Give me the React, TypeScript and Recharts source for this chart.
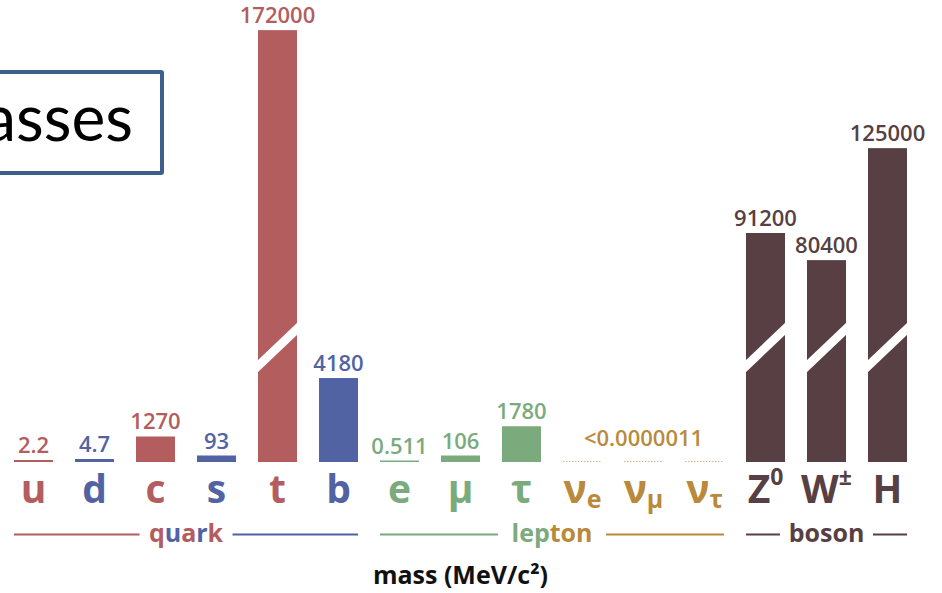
import { BarChart, Bar, XAxis, YAxis } from 'recharts';

/* ── Palette ─────────────────────────────────────────────────────────────── */

const RED   = '#B35D5F';
const BLUE  = '#5263A4';
const GREEN = '#7BAA7D';
const GOLD  = '#B98A3C';
const BROWN = '#583F43';
const FONT  = "'Open Sans', sans-serif";

/* ── Data ────────────────────────────────────────────────────────────────── */

const particles    = ['u', 'd', 'c', 's', 't', 'b', 'e', 'μ', 'τ', 'ν', 'ν', 'ν', 'Z', 'W', 'H'];
const subscripts   = ['', '', '', '', '', '', '', '', '', 'e', 'μ', 'τ', '', '', ''];
const superscripts = ['', '', '', '', '', '', '', '', '', '', '', '', '0', '±', ''];
// mass in MeV/c²
const masses = [2.2, 4.7, 1270, 93, 172000, 4180, 0.511, 106, 1780, 0.0000011, 0.0000011, 0.0000011, 91200, 80400, 125000];
const massLabels = ['2.2', '4.7', '1270', '93', '172000', '4180', '0.511', '106', '1780', '', '<0.0000011', '', '91200', '80400', '125000'];
// bars drawn on the compressed (broken) scale
const brokenScale = [false, false, false, false, true, false, false, false, false, false, false, false, true, true, true];
const particleColors = [RED, BLUE, RED, BLUE, RED, BLUE, GREEN, GREEN, GREEN, GOLD, GOLD, GOLD, BROWN, BROWN, BROWN];

const groupNames = ['quark', 'lepton', 'boson'];
const groupFirst = [0, 6, 12];
const groupLast  = [5, 11, 14];
const groupParts: [string, string][][] = [
  [['q', RED], ['u', BLUE], ['a', RED], ['r', BLUE], ['k', RED]],
  [['lep', GREEN], ['ton', GOLD]],
  [['boson', BROWN]],
];
const groupLineColors = [[RED, BLUE], [GREEN, GOLD], [BROWN, BROWN]];

const rows = particles.map((p, i) => ({
  i,
  name: p + subscripts[i] + superscripts[i],
  small: brokenScale[i] ? 0 : masses[i],
  big: brokenScale[i] ? masses[i] : 0,
}));

/* ── Layout ──────────────────────────────────────────────────────────────── */

const W = 942;
const H = 593;
const AXIS_H = 131;
const MARGIN = { top: 0, right: 24, bottom: 0, left: 3 };
const BASE_Y = H - MARGIN.bottom - AXIS_H;
const PITCH = (W - MARGIN.left - MARGIN.right) / particles.length;
const BAR = 39;
const GROUP_FS = 25;

/* ── Bar shape (bar + value label) ───────────────────────────────────────── */

const renderBar = (series: 'small' | 'big') => (props: any) => {
  const { x, y, width, height, payload } = props;
  const i = payload?.i;
  if (i == null || brokenScale[i] !== (series === 'big')) return <g />;
  const fill = particleColors[i];
  const base = y + height;
  const tiny = masses[i] < 0.001;

  let mark;
  if (tiny) {
    mark = (
      <line x1={x} x2={x + width} y1={base - 0.5} y2={base - 0.5}
        stroke={fill} strokeWidth={1} strokeDasharray="1.5 1.5" opacity={0.6} />
    );
  } else if (series === 'big') {
    mark = (
      <g>
        <rect x={x} y={y} width={width} height={height} fill={fill} />
        <polygon
          points={`${x - 1},${base - 101} ${x + width + 1},${base - 140} ${x + width + 1},${base - 128} ${x - 1},${base - 89}`}
          fill="#fff"
        />
      </g>
    );
  } else {
    mark = <rect x={x} y={y} width={width} height={height} fill={fill} />;
  }

  return (
    <g>
      {mark}
      {massLabels[i] && (
        <text x={x + width / 2} y={y - (tiny ? 15 : 7)} textAnchor="middle" fill={fill}
          fontSize={22} fontWeight={600} fontFamily={FONT}>
          {massLabels[i]}
        </text>
      )}
    </g>
  );
};

// tiny masses still get a visible sliver
const minSize = (value: any) => {
  if (!value) return 0;
  if (value >= 50) return 6.5;
  if (value >= 4) return 3;
  if (value >= 1) return 2;
  if (value >= 0.1) return 1.5;
  return 1;
};

/* ── Axis ticks ──────────────────────────────────────────────────────────── */

function GroupLabel({ g, x }: { g: number; x: number }) {
  const x0 = x - BAR / 2;
  const x1 = x + (groupLast[g] - groupFirst[g]) * PITCH + BAR / 2;
  const mid = (x0 + x1) / 2;
  const half = (groupNames[g].length * 0.6 * GROUP_FS) / 2 + 9;
  const ly = BASE_Y + 72.5;
  return (
    <g>
      <line x1={x0} x2={mid - half} y1={ly} y2={ly} stroke={groupLineColors[g][0]} strokeWidth={2} />
      <line x1={mid + half} x2={x1} y1={ly} y2={ly} stroke={groupLineColors[g][1]} strokeWidth={2} />
      <text x={mid} y={BASE_Y + 80} textAnchor="middle" fontSize={GROUP_FS} fontWeight={700} fontFamily={FONT}>
        {groupParts[g].map(([t, c], k) => <tspan key={k} fill={c}>{t}</tspan>)}
      </text>
    </g>
  );
}

function ParticleTick(props: any) {
  const { x, index } = props;
  const g = groupFirst.indexOf(index);
  return (
    <g>
      {g >= 0 && <GroupLabel g={g} x={x} />}
      <text x={x} y={BASE_Y + 41} textAnchor="middle" fill={particleColors[index]}
        fontSize={39} fontWeight={700} fontFamily={FONT}>
        {particles[index]}
        {subscripts[index] && <tspan fontSize={25} dy={5}>{subscripts[index]}</tspan>}
        {superscripts[index] && <tspan fontSize={23} dy={-18}>{superscripts[index]}</tspan>}
      </text>
    </g>
  );
}

function AxisTitle(props: any) {
  const vb = props.viewBox || {};
  return (
    <text x={vb.x + vb.width / 2} y={BASE_Y + 122} textAnchor="middle" fill="#111"
      fontSize={25} fontWeight={700} fontFamily={FONT}>
      mass (MeV/c²)
    </text>
  );
}

/* ── Page ─────────────────────────────────────────────────────────────────── */

export default function App() {
  return (
    <div style={{ position: 'absolute', left: 0, top: 0, width: W, height: H, background: '#fff', overflow: 'hidden' }}>
      <BarChart width={W} height={H} data={rows} margin={MARGIN} barSize={BAR}>
        <XAxis
          xAxisId="names"
          dataKey="name"
          height={AXIS_H}
          interval={0}
          axisLine={false}
          tickLine={false}
          tickSize={0}
          tickMargin={0}
          tick={(p: any) => <ParticleTick {...p} />}
          label={{ position: 'insideBottom', content: (p: any) => <AxisTitle {...p} /> }}
        />
        <XAxis xAxisId="big" dataKey="name" hide />
        <YAxis yAxisId="small" hide domain={[0, 23000]} allowDataOverflow />
        <YAxis yAxisId="big" hide domain={[0, 184000]} allowDataOverflow />

        <Bar dataKey="small" xAxisId="names" yAxisId="small" minPointSize={minSize}
          shape={renderBar('small')} isAnimationActive={false} />
        <Bar dataKey="big" xAxisId="big" yAxisId="big"
          shape={renderBar('big')} isAnimationActive={false} />
      </BarChart>

      {/* cropped slide title box */}
      <div style={{
        position: 'absolute', left: -60, top: 70, width: 224, height: 105, boxSizing: 'border-box',
        border: '4px solid #3E5F8B', borderRadius: 3, background: '#fff',
      }}>
        <span style={{
          position: 'absolute', right: 27, top: 11, fontFamily: 'Lato, sans-serif',
          fontSize: 64, lineHeight: '64px', color: '#000', whiteSpace: 'nowrap',
        }}>
          asses
        </span>
      </div>
    </div>
  );
}
